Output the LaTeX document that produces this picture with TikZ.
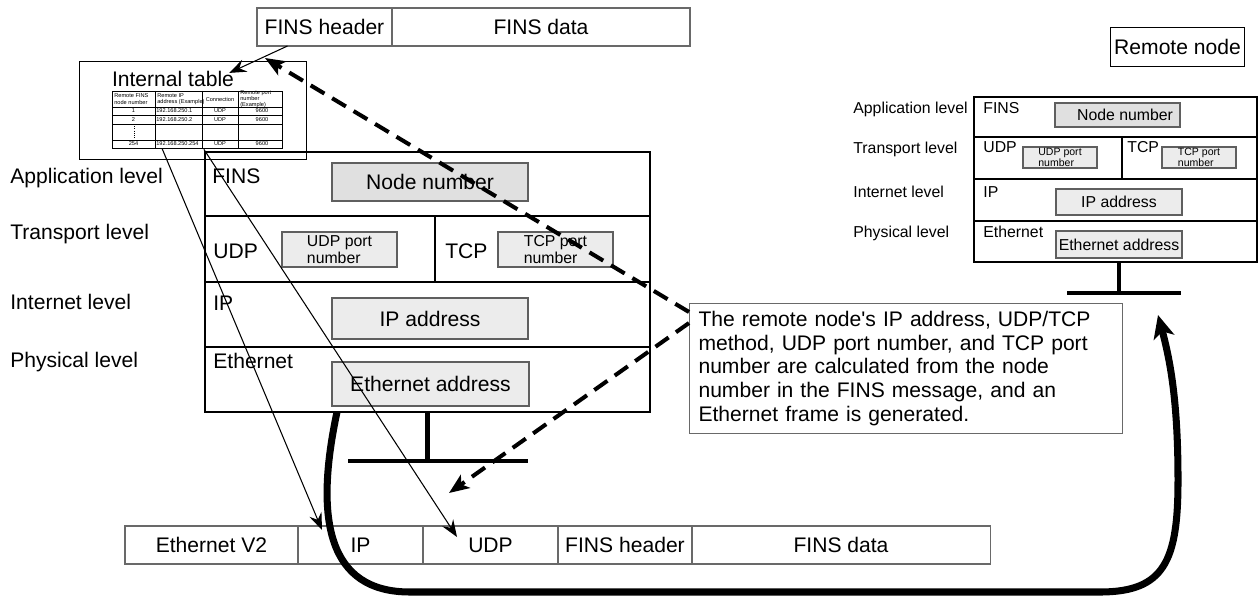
\documentclass[tikz,border=0pt]{standalone}
\usepackage{fontspec}
\setmainfont{Liberation Sans}
\usepackage{xcolor}
\usepackage{tikz}
\usetikzlibrary{arrows.meta, positioning}
\definecolor{FinsGray}{RGB}{224, 224, 224}
\definecolor{FieldGray}{RGB}{236, 236, 236}
\definecolor{FieldEdge}{RGB}{95, 95, 95}
\definecolor{FrameEdge}{RGB}{105, 105, 105}

\tikzset{
    cell/.style={draw=FrameEdge, line width=0.6pt, inner sep=0pt, outer sep=0pt,
                 minimum height=7.6mm, font=\fontsize{12}{14}\selectfont},
    layer/.style={draw, line width=0.9pt, inner sep=0pt, outer sep=0pt, anchor=north west},
    field/.style={draw=FieldEdge, fill=FieldGray, line width=0.6pt, inner sep=0pt},
    lvl/.style={anchor=base west, inner sep=0pt, font=\fontsize{12}{14}\selectfont},
    rlvl/.style={anchor=base west, inner sep=0pt, font=\fontsize{9}{11}\selectfont},
    tabtext/.style={inner sep=0pt, font=\fontsize{3.2}{3.6}\selectfont},
    tabline/.style={line width=0.5pt},
    thinarrow/.style={-{Stealth[length=3.4mm, width=2.6mm, inset=1.2mm]}, line width=0.6pt},
    dasharrow/.style={-{Stealth[length=4mm, width=3.2mm, inset=1mm]}, line width=2.3pt,
                      dash pattern=on 3.2mm off 1.8mm},
    busline/.style={line width=2.3pt},
}

\begin{document}
\begin{tikzpicture}[x=0.2mm, y=-0.2mm]
    \useasboundingbox (0,0) rectangle (1259,597);

    % FINS message on top
    \node[cell, anchor=north west, minimum width=27mm] (finshdr) at (257,8) {FINS header};
    \node[cell, right=0pt of finshdr, minimum width=59.6mm] (finsdata) {FINS data};

    % internal table
    \node[draw, line width=0.6pt, anchor=north west, minimum width=45.4mm, minimum height=19.6mm,
          inner sep=0pt] (tabframe) at (79,61) {};
    \node[inner sep=0pt, font=\fontsize{12}{14}\selectfont] (tabtitle) at (173,79) {Internal table};
    \draw[tabline] (112,91) rectangle (282,148);
    \foreach \x in {155,202,238}
        \draw[tabline] (\x,91) -- (\x,148);
    \foreach \y in {107,115,124,140}
        \draw[tabline] (112,\y) -- (282,\y);
    \node[tabtext, anchor=west, align=left] at (114,99) {Remote FINS\\node number};
    \node[tabtext, anchor=west, align=left] at (157,99) {Remote IP\\address (Example)};
    \node[tabtext] at (220,99) {Connection};
    \node[tabtext, anchor=west, align=left] at (240,99) {Remote port\\number\\(Example)};
    \node[tabtext] at (133.5,111) {1};
    \node[tabtext, anchor=west] at (156,111) {192.168.250.1};
    \node[tabtext] at (220,111) {UDP};
    \node[tabtext] at (262,111) {9600};
    \node[tabtext] at (133.5,119.5) {2};
    \node[tabtext, anchor=west] at (156,119.5) {192.168.250.2};
    \node[tabtext] at (220,119.5) {UDP};
    \node[tabtext] at (262,119.5) {9600};
    \draw[line width=0.3pt, densely dotted] (134,126) -- (134,138);
    \node[tabtext] at (133.5,144) {254};
    \node[tabtext, anchor=west] (ip254) at (156,144) {192.168.250.254};
    \node[tabtext] at (220,144) {UDP};
    \node[tabtext] at (262,144) {9600};

    % local node stack
    \node[layer, minimum width=89mm, minimum height=12.8mm] (appl) at (205,152) {};
    \node[layer, minimum width=46mm, minimum height=13.2mm] (udprow) at (205,216) {};
    \node[layer, minimum width=43mm, minimum height=13.2mm] (tcprow) at (435,216) {};
    \node[layer, minimum width=89mm, minimum height=13mm] (iprow) at (205,282) {};
    \node[layer, minimum width=89mm, minimum height=13mm] (ethrow) at (205,347) {};

    \node[lvl] at (10,183) {Application level};
    \node[lvl] at (10,239) {Transport level};
    \node[lvl] at (10,309) {Internet level};
    \node[lvl] at (10,367) {Physical level};

    \node[lvl] at (212,183) {FINS};
    \node[lvl] at (213,258) {UDP};
    \node[lvl] at (445,258) {TCP};
    \node[lvl] at (213,310) {IP};
    \node[lvl] at (213,368) {Ethernet};

    \node[field, fill=FinsGray, minimum width=39.2mm, minimum height=7.6mm,
          font=\fontsize{12}{14}\selectfont] (nodenum) at (430,182) {Node number};
    \node[field, minimum width=23mm, minimum height=7mm, align=left,
          font=\fontsize{9}{9.5}\selectfont] (udpport) at (339.5,249.5) {UDP port\\number\hspace{2mm}};
    \node[field, minimum width=23mm, minimum height=7mm, align=left,
          font=\fontsize{9}{9.5}\selectfont] (tcpport) at (555.5,249.5) {TCP port\\number\hspace{2mm}};
    \node[field, minimum width=39.2mm, minimum height=8.2mm,
          font=\fontsize{12}{14}\selectfont] (ipaddr) at (430,318.5) {IP address};
    \node[field, minimum width=39.4mm, minimum height=8.8mm,
          font=\fontsize{12}{14}\selectfont] (ethaddr) at (430.5,384) {Ethernet address};

    \draw[busline] (ethrow.south) -- ++(0,49) coordinate (lbus);
    \draw[busline] ([xshift=-15.9mm]lbus) -- ([xshift=20.1mm]lbus);

    % remote node
    \node[draw, line width=0.6pt, anchor=north west, minimum width=26.8mm, minimum height=7.8mm,
          inner sep=0pt, font=\fontsize{12}{14}\selectfont] (remote) at (1110,27) {Remote node};

    \node[layer, minimum width=56.6mm, minimum height=8mm] (rappl) at (974,97) {};
    \node[layer, minimum width=29.6mm, minimum height=8.4mm] (rudprow) at (974,137) {};
    \node[layer, minimum width=27mm, minimum height=8.4mm] (rtcprow) at (1122,137) {};
    \node[layer, minimum width=56.6mm, minimum height=8.4mm] (riprow) at (974,179) {};
    \node[layer, minimum width=56.6mm, minimum height=8.2mm] (rethrow) at (974,221) {};

    \node[rlvl] at (853,113) {Application level};
    \node[rlvl] at (853,153) {Transport level};
    \node[rlvl] at (853,197) {Internet level};
    \node[rlvl] at (853,237) {Physical level};

    \node[rlvl] at (983,113) {FINS};
    \node[rlvl] at (983,152) {UDP};
    \node[rlvl] at (1127,152) {TCP};
    \node[rlvl] at (983,197) {IP};
    \node[rlvl] at (983,237) {Ethernet};

    \node[field, fill=FinsGray, minimum width=25mm, minimum height=4.8mm,
          font=\fontsize{9}{11}\selectfont] (rnodenum) at (1117.5,115) {\hspace{3mm}Node number};
    \node[field, minimum width=14.8mm, minimum height=4.2mm, align=left,
          font=\fontsize{6}{6.4}\selectfont] (rudpport) at (1060,157.5) {UDP port\\number};
    \node[field, minimum width=14.8mm, minimum height=4.2mm, align=left,
          font=\fontsize{6}{6.4}\selectfont] (rtcpport) at (1199,157.5) {TCP port\\number};
    \node[field, minimum width=25.2mm, minimum height=5.2mm,
          font=\fontsize{9}{11}\selectfont] (ripaddr) at (1119,202) {IP address};
    \node[field, minimum width=25.2mm, minimum height=5.4mm,
          font=\fontsize{9}{11}\selectfont] (rethaddr) at (1119,244.5) {Ethernet address};

    \draw[busline] ([xshift=0.7mm]rethrow.south) -- ++(0,31) coordinate (rbus);
    \draw[busline] ([xshift=-10.4mm]rbus) -- ([xshift=12.4mm]rbus);

    % explanation
    \node[draw=FrameEdge, line width=0.6pt, anchor=north west, inner xsep=1.8mm, inner ysep=0pt,
          text width=83mm, minimum height=26mm, align=left,
          font=\fontsize{12}{13.6}\selectfont] (callout) at (689,303)
        {The remote node\textquotesingle s IP address, UDP/TCP\\
         method, UDP port number, and TCP port\\
         number are calculated from the node\\
         number in the FINS message, and an\\
         Ethernet frame is generated.};

    % Ethernet frame
    \node[cell, anchor=north west, minimum width=34.6mm] (ethv2) at (125,526) {Ethernet V2};
    \node[cell, right=0pt of ethv2, minimum width=25mm] (ipcell) {IP};
    \node[cell, right=0pt of ipcell, minimum width=27mm] (udpcell) {UDP};
    \node[cell, right=0pt of udpcell, minimum width=26.8mm] (hdrcell) {FINS header};
    \node[cell, right=0pt of hdrcell, minimum width=59.6mm] (datacell) {FINS data};

    % connectors
    \draw[thinarrow] ([xshift=-7.4mm]finshdr.south) -- ([xshift=-1mm, yshift=-0.4mm]tabtitle.north east);
    \draw[thinarrow] ([xshift=1.2mm, yshift=-0.4mm]ip254.south west) -- ([xshift=4.8mm, yshift=-0.8mm]ipcell.north west);
    \draw[thinarrow] ([xshift=1mm, yshift=-0.6mm]ip254.south east) -- ([xshift=6.8mm, yshift=-2.2mm]udpcell.north west);
    \draw[dasharrow] ([yshift=-1.8mm]callout.north west) -- ([xshift=-11.9mm, yshift=-2.4mm]finshdr.south);
    \draw[dasharrow] ([yshift=-4mm]callout.north west) -- ([xshift=-8.3mm, yshift=6.6mm]udpcell.north);
    \draw[line width=4pt, -{Stealth[length=4.6mm, width=4.2mm, inset=1.2mm]}]
        ([xshift=-18.1mm]ethrow.south) .. controls (314,520) and (328,592) .. (410,592)
        -- (1100,592) .. controls (1165,592) and (1178,560) .. (1178,480)
        .. controls (1178,400) and (1170,360) .. ([xshift=7.8mm, yshift=-4.4mm]rbus);
\end{tikzpicture}
\end{document}
